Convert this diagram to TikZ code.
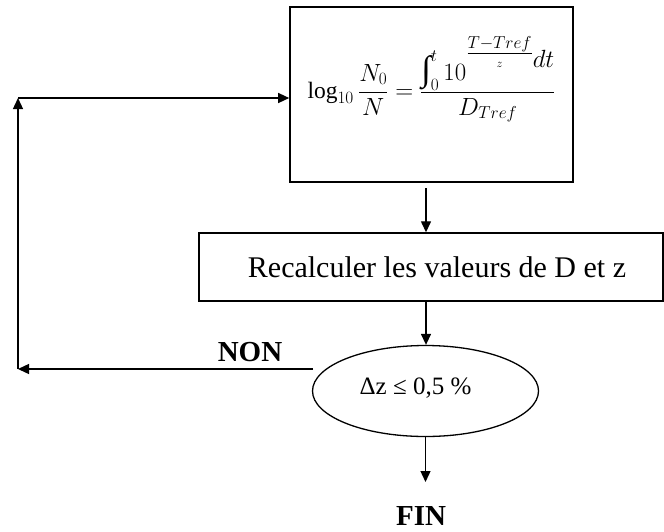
\documentclass[tikz,border=0pt]{standalone}
\usepackage{fontspec}
\setmainfont{Liberation Serif}
\usetikzlibrary{arrows.meta,shapes.geometric}
\newcommand{\bigintegral}{\mathop{\hbox{\fontsize{35}{35}\selectfont ∫}}\nolimits}
\begin{document}
\begin{tikzpicture}[x=1pt,y=-1pt,line width=1.3pt,
  >={Triangle[length=11pt,width=10pt]},
  boxnode/.style={draw,line width=1.6pt,inner sep=0pt,align=center},
  labelnode/.style={font=\fontsize{29}{33}\selectfont\bfseries,inner sep=0pt}]
\useasboundingbox (0,0) rectangle (664,531);
\node[boxnode,minimum width=283pt,minimum height=175pt] (eq) at (431.5,94.5)
  {\raisebox{-3.5pt}[0pt][0pt]{\fontsize{23.5}{28}\selectfont$\displaystyle\log_{10}\frac{N_0}{N}=\frac{\bigintegral_0^t 10\raisebox{21pt}{$\frac{\scriptstyle T-Tref}{\scriptscriptstyle z}$}\raisebox{13pt}{$dt$}}{D_{Tref}}$}};
\node[boxnode,line width=1.4pt,minimum width=464pt,minimum height=68pt,font=\fontsize{30}{34}\selectfont] (rc) at (431,267)
  {\hspace*{12pt}Recalculer les valeurs de D et z};
\node[draw,ellipse,line width=1.3pt,minimum width=226pt,minimum height=91pt,inner sep=0pt,font=\fontsize{25}{29}\selectfont] (test) at (425.5,391)
  {\raisebox{10pt}{\hspace*{-20pt}Δz ≤ 0,5 \%}};
\node[labelnode] (non) at (250,352) {NON};
\node[labelnode] (fin) at (421,516) {FIN};
\coordinate (a1) at (426,188);
\coordinate (a2) at (426,301);
\coordinate (a3) at (425.5,482);
\coordinate (n0) at (313,369);
\coordinate (n1) at (18,369);
\coordinate (n2) at (18,98);
\draw[->] (a1) -- (a1 |- rc.north);
\draw[->] (a2) -- (a2 |- test.north);
\draw[->] (test.south) -- (a3);
\draw[->] (n0) -- (n1);
\draw[->] (n1) -- (n2);
\draw[->] (n2) -- (eq.west |- n2);
\end{tikzpicture}
\end{document}
